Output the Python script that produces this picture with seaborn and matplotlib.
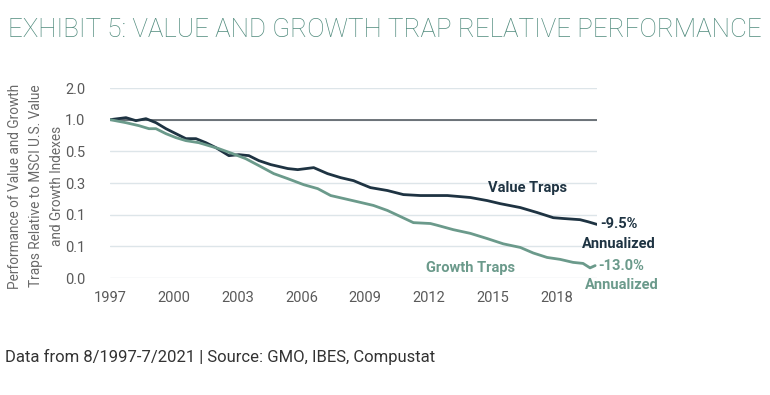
import pandas as pd
import matplotlib.pyplot as plt
import seaborn as sns

# ------------------------
# Data (log scale)
# ------------------------
value_years = [1997.00, 1997.75, 1998.22, 1998.69, 1999.16, 1999.63, 2000.10, 2000.57,
               2001.04, 2001.51, 2001.98, 2002.59, 2003.06, 2003.53, 2004.00, 2004.56,
               2005.36, 2005.83, 2006.58, 2007.23, 2007.85, 2008.46, 2008.78, 2009.25,
               2010.05, 2010.80, 2011.60, 2012.87, 2013.95, 2014.75, 2015.36, 2016.30,
               2017.09, 2017.85, 2018.31, 2019.11, 2019.49, 2019.91]
value_perf = [1.000, 1.045, 0.978, 1.022, 0.936, 0.821, 0.736, 0.660,
              0.660, 0.604, 0.542, 0.455, 0.465, 0.455, 0.408, 0.374,
              0.343, 0.335, 0.350, 0.307, 0.281, 0.263, 0.247, 0.226,
              0.212, 0.194, 0.190, 0.190, 0.182, 0.170, 0.159, 0.146,
              0.131, 0.117, 0.115, 0.112, 0.107, 0.101]

growth_years = [1997.00, 1997.75, 1998.36, 1998.83, 1999.16, 1999.63, 2000.10, 2000.57,
                2001.18, 2001.65, 2002.12, 2002.77, 2003.38, 2004.00, 2004.70, 2005.36,
                2006.11, 2006.77, 2007.38, 2007.99, 2008.64, 2009.39, 2010.05, 2010.66,
                2011.27, 2012.07, 2012.40, 2013.15, 2013.95, 2014.75, 2015.50, 2016.30,
                2016.91, 2017.56, 2018.17, 2018.78, 2019.25, 2019.58, 2019.82]
growth_perf = [1.000, 0.936, 0.877, 0.821, 0.821, 0.736, 0.675, 0.632,
               0.604, 0.566, 0.530, 0.475, 0.426, 0.366, 0.307, 0.275,
               0.241, 0.221, 0.190, 0.178, 0.166, 0.153, 0.137, 0.120,
               0.105, 0.103, 0.099, 0.090, 0.083, 0.074, 0.066, 0.061,
               0.054, 0.049, 0.047, 0.044, 0.043, 0.039, 0.041]

y_ticks = [2.0, 1.0, 0.5, 0.25, 0.125, 0.0625, 0.03125]
y_tick_labels = ["2.0", "1.0", "0.5", "0.3", "0.1", "0.1", "0.0"]
x_ticks = [1997, 2000, 2003, 2006, 2009, 2012, 2015, 2018]

df = pd.concat([
    pd.DataFrame({"year": value_years, "perf": value_perf, "series": "Value Traps"}),
    pd.DataFrame({"year": growth_years, "perf": growth_perf, "series": "Growth Traps"}),
])

# ------------------------
# Style
# ------------------------
sns.set_theme(style="white")
plt.rcParams['font.family'] = ['Roboto', 'DejaVu Sans']

navy = "#1e3342"
teal = "#6b9a8b"
title_teal = "#4f8a7c"
grey = "#5a5a5a"

fig = plt.figure(figsize=(7.7, 3.95), dpi=100)
ax = fig.add_axes([0.1429, 0.2962, 0.6325, 0.481])

sns.lineplot(data=df, x="year", y="perf", hue="series", palette={"Value Traps": navy, "Growth Traps": teal},
             linewidth=2.0, legend=False, ax=ax)

ax.set_yscale('log', base=2)
ax.set_ylim(0.03125, 2.0)
ax.set_xlim(1997.0, 2019.91)
ax.set_yticks(y_ticks)
ax.set_yticklabels(y_tick_labels)
ax.set_xticks(x_ticks)
ax.set_xticklabels([str(x) for x in x_ticks])
ax.minorticks_off()
ax.tick_params(axis='both', length=0, labelsize=10.5, colors=grey)
ax.tick_params(axis='y', pad=18)
ax.tick_params(axis='x', pad=9)
ax.grid(axis='y', color="#dde5e9", linewidth=1.0)
ax.axhline(1.0, color="#4a5157", linewidth=1.1, zorder=1)
for s in ax.spines.values():
    s.set_visible(False)
ax.set_xlabel("")
ax.set_ylabel("")

fig.text(36 / 770, 1 - 186 / 395,
         "Performance of Value and Growth\nTraps Relative to MSCI U.S. Value\nand Growth Indexes",
         fontsize=9.8, color="#6a6a6a", rotation=90, ha='center', va='center',
         multialignment='center', linespacing=1.6)

# annotations
ax.text(2016.62, 0.226, "Value Traps", color=navy, fontsize=10.5, fontweight='bold', ha='center', va='center')
ax.text(2020.05, 0.103, "-9.5%", color=navy, fontsize=10.5, fontweight='bold', ha='left', va='center')
ax.text(2020.94, 0.066, "Annualized", color=navy, fontsize=10.5, fontweight='bold', ha='center', va='center')
ax.text(2013.95, 0.0385, "Growth Traps", color=teal, fontsize=10.5, fontweight='bold', ha='center', va='center')
ax.text(2019.96, 0.041, "-13.0%", color=teal, fontsize=10.5, fontweight='bold', ha='left', va='center')
ax.text(2021.08, 0.027, "Annualized", color=teal, fontsize=10.5, fontweight='bold', ha='center', va='center')

fig.text(0.010, 0.925, "EXHIBIT 5: VALUE AND GROWTH TRAP RELATIVE PERFORMANCE", color=title_teal,
         fontsize=18.7, fontweight='light', ha='left', va='center')
fig.text(0.006, 0.096, "Data from 8/1997-7/2021 | Source: GMO, IBES, Compustat", color="#333333",
         fontsize=12, ha='left', va='center')

fig.savefig("out.png", dpi=100)
